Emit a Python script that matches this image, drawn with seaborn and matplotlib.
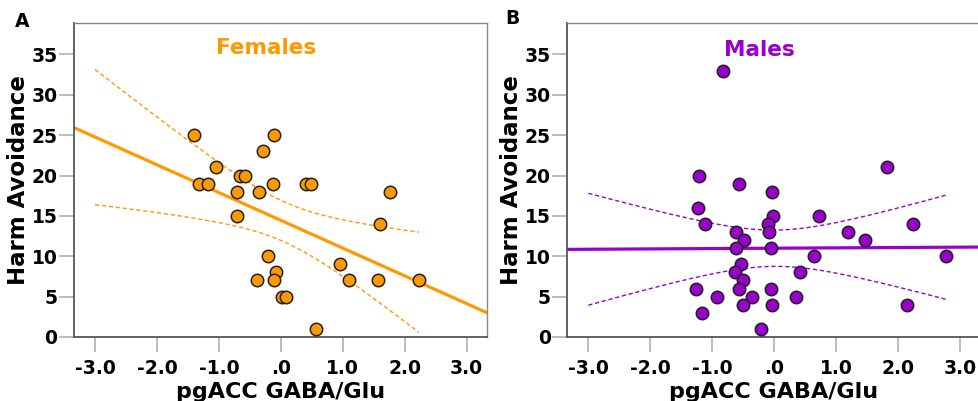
import numpy as np
import pandas as pd
import matplotlib
matplotlib.use("Agg")
import matplotlib.pyplot as plt
import seaborn as sns

# ---- data ----
female_x = [-1.41, -0.11, -0.285, -1.05, -0.66, -0.575, -1.32, -1.17, -0.13, 0.40,
            0.49, -0.715, -0.355, 1.77, -0.715, 1.61, -0.20, 0.95, -0.07, -0.38,
            -0.11, 1.10, 1.57, 2.23, 0.016, 0.09, 0.565]
female_y = [25, 25, 23, 21, 20, 20, 19, 19, 19, 19,
            19, 18, 18, 18, 15, 14, 10, 9, 8, 7,
            7, 7, 7, 7, 5, 5, 1]

male_x = [-0.82, 1.82, -1.215, -0.56, -0.03, -1.23, -0.01, 0.72, -1.11, -0.10,
          2.25, -0.62, -0.075, 1.19, -0.49, 1.46, -0.62, -0.05, 0.65, 2.77,
          -0.54, -0.63, 0.42, -0.505, -1.26, -0.56, -0.05, -0.92, -0.355, 0.355,
          -0.505, -0.03, 2.15, -1.16, -0.215]
male_y = [33, 21, 20, 19, 18, 16, 15, 15, 14, 14,
          14, 13, 13, 13, 12, 12, 11, 11, 10, 10,
          9, 8, 8, 7, 6, 6, 6, 5, 5, 5,
          4, 4, 4, 3, 1]

x_ticks = [-3.0, -2.0, -1.0, 0.0, 1.0, 2.0, 3.0]
x_tick_labels = ["-3.0", "-2.0", "-1.0", ".0", "1.0", "2.0", "3.0"]
y_ticks = [0, 5, 10, 15, 20, 25, 30, 35]
panel_titles = ["Females", "Males"]
panel_letters = ["A", "B"]
colors = ["#FF9900", "#9900CC"]
T_CRIT = {25: 2.0595, 33: 2.0345}  # 97.5% t quantiles for df = n-2

XLIM = (-3.34, 3.33)
YLIM = (0, 38.9)
CI_START = -3.0

sns.set_theme(style="white")
plt.rcParams['font.family'] = ['DejaVu Sans']
plt.rcParams['font.weight'] = 'bold'
plt.rcParams['text.color'] = 'black'

fig = plt.figure(figsize=(9.79, 4.01), dpi=100)
axA = fig.add_axes([74/979, 1 - 337/401, 413/979, 314/401])
axB = fig.add_axes([567.3/979, 1 - 337/401, 413/979, 314/401])

def draw(ax, xs, ys, color, title, title_pos):
    xs = np.asarray(xs, float)
    ys = np.asarray(ys, float)
    n = len(xs)
    slope, icept = np.polyfit(xs, ys, 1)
    xbar = xs.mean()
    resid = ys - (icept + slope * xs)
    s = np.sqrt((resid ** 2).sum() / (n - 2))
    sxx = ((xs - xbar) ** 2).sum()
    t = T_CRIT[n - 2]

    # fitted line across the full axis
    xl = np.linspace(XLIM[0], XLIM[1], 50)
    sns.lineplot(x=xl, y=icept + slope * xl, ax=ax, color=color, lw=2.3, zorder=2)

    # confidence bands for the mean
    xc = np.linspace(CI_START, xs.max(), 200)
    yc = icept + slope * xc
    hw = t * s * np.sqrt(1.0 / n + (xc - xbar) ** 2 / sxx)
    for sign in (1, -1):
        sns.lineplot(x=xc, y=yc + sign * hw, ax=ax, color=color, lw=1.0,
                     dashes=False, linestyle=(0, (3, 2)), zorder=2)

    df = pd.DataFrame({"x": xs, "y": ys})
    sns.scatterplot(data=df, x="x", y="y", ax=ax, color=color, s=80,
                    edgecolor="#222222", linewidth=1.1, zorder=3)

    ax.set_xlim(*XLIM)
    ax.set_ylim(*YLIM)
    ax.set_xticks(x_ticks)
    ax.set_xticklabels(x_tick_labels)
    ax.set_yticks(y_ticks)
    ax.tick_params(axis="both", which="both", length=11, width=1.2, color="#b0b0b0",
                   labelsize=13.5, labelcolor="black", direction="out",
                   bottom=True, left=True)
    ax.tick_params(axis="y", pad=1)
    ax.tick_params(axis="x", pad=5)
    for lab in ax.get_xticklabels() + ax.get_yticklabels():
        lab.set_fontweight("bold")
    ax.set_xlabel("pgACC GABA/Glu", fontsize=16, fontweight="bold", labelpad=3,
                  color="black")
    ax.set_ylabel("Harm Avoidance", fontsize=16.5, fontweight="bold", labelpad=1,
                  color="black")
    for side in ["left", "bottom"]:
        ax.spines[side].set_color("#555555")
        ax.spines[side].set_linewidth(1.3)
    for side in ["top", "right"]:
        ax.spines[side].set_color("#888888")
        ax.spines[side].set_linewidth(1.0)
    ax.text(title_pos[0], title_pos[1], title, transform=ax.transAxes, color=color,
            fontsize=15.5, fontweight="bold", ha="center", va="center")
    ax.grid(False)

draw(axA, female_x, female_y, colors[0], panel_titles[0], (0.465, 0.920))
draw(axB, male_x, male_y, colors[1], panel_titles[1], (0.466, 0.913))

fig.text(22/979, 1 - 21.7/401, panel_letters[0], fontsize=13.5, fontweight="bold",
         ha="center", va="center", color="black")
fig.text(512/979, 1 - 18.3/401, panel_letters[1], fontsize=13.5, fontweight="bold",
         ha="center", va="center", color="black")

fig.savefig("out.png", dpi=100)
